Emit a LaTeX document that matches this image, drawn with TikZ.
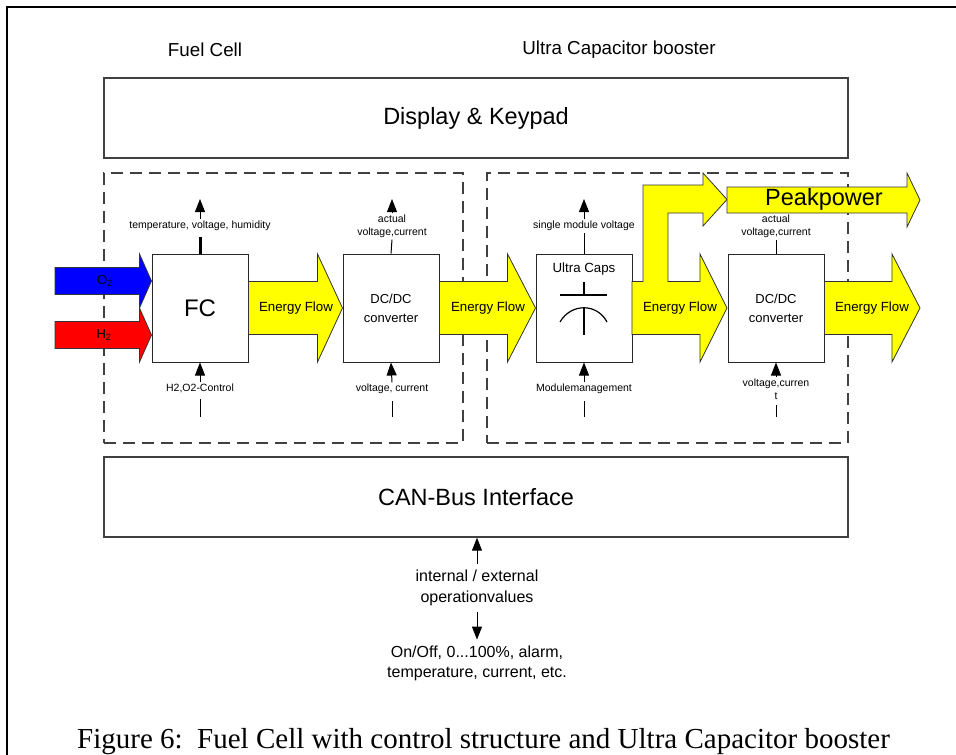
\documentclass[tikz,border=0pt]{standalone}
\usepackage{fontspec}
\setmainfont{Liberation Serif}
\newfontfamily\arialfam{Liberation Sans}
\usetikzlibrary{arrows.meta,calc}
\definecolor{flowyellow}{RGB}{255,255,0}
\definecolor{flowblue}{RGB}{0,0,255}
\definecolor{flowred}{RGB}{255,0,0}
\newcommand{\flowarr}[6]{%
  \path[flowline,fill=#3] let \p1=(#1), \p2=(#2) in
    (\x1,\y1+#4) -- (\x2-#6,\y1+#4) -- (\x2-#6,\y1+#5) -- (\x2,\y1)
    -- (\x2-#6,\y1-#5) -- (\x2-#6,\y1-#4) -- (\x1,\y1-#4) -- cycle;}
\begin{document}
\begin{tikzpicture}[x=1pt,y=-1pt,
  every node/.style={font=\arialfam},
  box/.style={draw=black!85, line width=1pt, fill=white, minimum width=96pt, minimum height=108pt, inner sep=0pt},
  panel/.style={draw=black!75, line width=1.3pt, minimum width=744pt, minimum height=80pt, inner sep=0pt, font=\arialfam\fontsize{23.5}{28}\selectfont},
  group/.style={draw=black!75, line width=1.3pt, dash pattern=on 12pt off 7pt, inner sep=0pt, minimum height=270pt},
  flowline/.style={draw=black!80, line width=0.8pt, line join=miter},
  flowtext/.style={font=\arialfam\fontsize{13.3}{16}\selectfont, inner sep=0pt},
  lab/.style={font=\arialfam\fontsize{10.5}{13}\selectfont, align=center, inner sep=1.5pt},
  big/.style={font=\arialfam\fontsize{16}{20.5}\selectfont, align=center, inner sep=2pt},
  ctl/.style={line width=1pt},
  ctlarr/.style={line width=1pt, -{Triangle[width=10pt,length=13pt]}},
]
\useasboundingbox (0,0) rectangle (956,755);

% outer frame
\coordinate (frbl) at (7,755);
\coordinate (frtl) at (7,7);
\coordinate (frtr) at (956,7);
\draw[line width=2pt] (frbl) -- (frtl) -- (frtr);

% titles
\node[font=\arialfam\fontsize{18.8}{22}\selectfont] (fclabel) at (205,50) {Fuel Cell};
\node[font=\arialfam\fontsize{18.8}{22}\selectfont] (uclabel) at (619,50) {Ultra Capacitor booster};

% panels
\node[panel] (disp) at (476,118) {Display \& Keypad};
\node[panel] (can) at (476,497) {CAN-Bus Interface};

% dashed groups
\node[group, minimum width=359pt] (fcgroup) at (283.5,308) {};
\node[group, minimum width=361pt] (ucgroup) at (667.5,308) {};

% main boxes
\node[box, font=\arialfam\fontsize{24}{28}\selectfont] (fc) at (200,308) {FC};
\node[box, align=center, font=\arialfam\fontsize{13}{19}\selectfont] (dc1) at (391,308) {DC/DC\\converter};
\node[box] (uc) at (584,308) {};
\node[box, align=center, font=\arialfam\fontsize{13}{19}\selectfont] (dc2) at (776,308) {DC/DC\\converter};
\node[font=\arialfam\fontsize{13.3}{16}\selectfont] (uctext) at (584,269) {Ultra Caps};

% capacitor symbol
\draw[line width=1.2pt] (584,282) -- (584,294);
\draw[line width=1.5pt] (560,295) -- (607,295);
\draw[line width=1.2pt] (560,322) .. controls (571,303) and (597,303) .. (607,322);
\draw[line width=1.2pt] (584,308) -- (584,335);

% gas inputs
\coordinate (o2start) at (55,281);
\coordinate (h2start) at (55,335);
\flowarr{o2start}{fc.west}{flowblue}{13.5pt}{27pt}{12pt}
\flowarr{h2start}{fc.west}{flowred}{13.5pt}{27pt}{12pt}
\node[font=\arialfam\fontsize{13}{16}\selectfont, inner sep=0pt] (o2text) at (105,281) {O\textsubscript{2}};
\node[font=\arialfam\fontsize{13}{16}\selectfont, inner sep=0pt] (h2text) at (104,335) {H\textsubscript{2}};

% energy flows
\flowarr{fc.east}{dc1.west}{flowyellow}{26.5pt}{54pt}{25pt}
\flowarr{dc1.east}{uc.west}{flowyellow}{26.5pt}{54pt}{28pt}
\coordinate (outend) at (920,308);
\flowarr{dc2.east}{outend}{flowyellow}{26.5pt}{54pt}{28pt}
% energy flow 3 with peak power branch
\path[flowline, fill=flowyellow] (632,281.5) -- (643,281.5) -- (643,185) -- (703,185) -- (703,173)
  -- (727,199.5) -- (703,226) -- (703,213) -- (668,213) -- (668,281.5) -- (700,281.5) -- (700,254)
  -- (727,308) -- (700,362) -- (700,334.5) -- (632,334.5) -- cycle;
\coordinate (pkstart) at (727,200);
\coordinate (pkend) at (920,200);
\flowarr{pkstart}{pkend}{flowyellow}{13pt}{27pt}{13pt}

\node[flowtext] (ef1) at (296,308) {Energy Flow};
\node[flowtext] (ef2) at (488,308) {Energy Flow};
\node[flowtext] (ef3) at (680,308) {Energy Flow};
\node[flowtext] (ef4) at (872,308) {Energy Flow};
\node[font=\arialfam\fontsize{23.5}{28}\selectfont, inner sep=0pt] (pk) at (824,199) {Peakpower};

% control signals, top
\node[lab] (fct) at (200,226) {temperature, voltage, humidity};
\coordinate (fctip) at (200,199);
\draw[line width=3pt] (fc.north) -- ($(fct.south)+(0,4)$);
\draw[ctlarr] (fct.north) -- (fctip);

\node[lab] (dc1t) at (392,226.5) {actual\\voltage,current};
\coordinate (dc1tip) at (392,199);
\draw[ctl] (dc1.north) -- (dc1t.south);
\draw[ctlarr] (dc1t.north) -- (dc1tip);

\node[lab] (uct) at (584,226) {single module voltage};
\coordinate (uctip) at (584,199);
\draw[ctl] (uc.north) -- (uct.south);
\draw[ctlarr] (uct.north) -- (uctip);

\node[lab] (dc2t) at (776,226.5) {actual\\voltage,current};
\draw[ctl] (dc2.north) -- (dc2t.south);

% control signals, bottom
\node[lab] (fcb) at (200,388) {H2,O2-Control};
\coordinate (fcbe) at (200,417);
\draw[ctl, shorten >=5pt] (fcbe) -- (fcb.south);
\draw[ctlarr] (fcb.north) -- (fc.south);

\node[lab] (dc1b) at (392,389) {voltage, current};
\coordinate (dc1be) at (392,417);
\draw[ctl, shorten >=5pt] (dc1be) -- (dc1b.south);
\draw[ctlarr] (dc1b.north) -- (dc1.south);

\node[lab] (ucb) at (584,389) {Modulemanagement};
\coordinate (ucbe) at (584,417);
\draw[ctl, shorten >=5pt] (ucbe) -- (ucb.south);
\draw[ctlarr] (ucb.north) -- (uc.south);

\node[lab] (dc2b) at (776,389.5) {voltage,curren\\t};
\coordinate (dc2be) at (776,417);
\draw[ctl, shorten >=3pt] (dc2be) -- (dc2b.south);
\draw[ctlarr] (dc2b.north) -- (dc2.south);

% CAN bus signals
\node[big] (ops) at (477,588) {internal / external\\operationvalues};
\node[big] (onoff) at (477,663.5) {On/Off, 0...100\%, alarm,\\temperature, current, etc.};
\draw[ctlarr, shorten <=4pt] (ops.north) -- (ops.north |- can.south);
\draw[ctlarr, shorten <=4pt, shorten >=4pt] (ops.south) -- (onoff.north);

% caption
\node[anchor=base west, inner sep=0pt, font=\rmfamily\fontsize{29}{34}\selectfont] (caption) at (77,748)
  {Figure 6:\ \ Fuel Cell with control structure and Ultra Capacitor booster};
\end{tikzpicture}
\end{document}
